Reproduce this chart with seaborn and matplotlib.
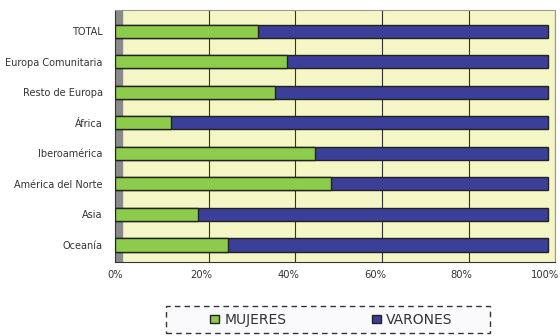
import pandas as pd
import matplotlib.pyplot as plt
import matplotlib.transforms as mtransforms
import seaborn as sns
from matplotlib.patches import Patch, Rectangle

regiones = ["TOTAL", "Europa Comunitaria", "Resto de Europa", "África",
            "Iberoamérica", "América del Norte", "Asia", "Oceanía"]
mujeres = [33.0, 39.7, 37.0, 12.9, 46.1, 49.8, 19.1, 26.0]
varones = [100 - m for m in mujeres]
xticks = [0, 20, 40, 60, 80, 100]

df = pd.DataFrame({"Region": regiones, "MUJERES": mujeres, "VARONES": varones})
df["Total"] = df["MUJERES"] + df["VARONES"]

verde = "#8DCB4C"
azul = "#3C3F98"
fondo = "#F5F6C6"

sns.set_style("white")
plt.rcParams["font.family"] = ["DejaVu Sans"]

fig = plt.figure(figsize=(5.6, 3.36), dpi=100)
ax = fig.add_axes([0.2054, 0.22, 0.786, 0.75])
ax.set_facecolor(fondo)

# grey left wall
ax.axvspan(0, 1.6, color="#8A8A8A", zorder=1)
for t in xticks[1:]:
    ax.axvline(t + 1.6, color="#333333", linewidth=0.8, zorder=1)

# stacked bars: full length in navy, green on top
sns.barplot(data=df, y="Region", x="Total", color=azul, width=0.43,
            saturation=1, edgecolor="#222222", linewidth=1.0, ax=ax, zorder=3)
sns.barplot(data=df, y="Region", x="MUJERES", color=verde, width=0.43,
            saturation=1, edgecolor="#222222", linewidth=1.0, ax=ax, zorder=4)

ax.set_xlim(0, 101.6)
ax.set_ylim(7.56, -0.69)
ax.set_xticks(xticks)
ax.set_xticklabels([f"{t}%" for t in xticks], fontsize=7.2, color="#333333")
ax.tick_params(axis="y", labelsize=7.0, labelcolor="#333333", length=0, pad=9)
ax.tick_params(axis="x", length=3, color="#333333", pad=3)
ax.set_xlabel("")
ax.set_ylabel("")

# nudge the 100% label so it stays inside the figure
last = ax.get_xticklabels()[-1]
last.set_transform(last.get_transform()
                   + mtransforms.ScaledTranslation(-3 / 100, 0, fig.dpi_scale_trans))

for s in ["top", "right"]:
    ax.spines[s].set_color("#999999")
for s in ["left", "bottom"]:
    ax.spines[s].set_color("#333333")

# dashed legend box
fig.patches.append(Rectangle((166 / 560, 1 - 333 / 336), 324 / 560, 27 / 336,
                             transform=fig.transFigure, facecolor="#FAFAFC",
                             edgecolor="#333333", linewidth=1.0,
                             linestyle=(0, (4, 3)), zorder=0))

handles = [Patch(facecolor=verde, edgecolor="#222222", label="MUJERES"),
           Patch(facecolor=azul, edgecolor="#222222", label="VARONES")]
leg = fig.legend(handles=handles, loc="center", bbox_to_anchor=(0.592, 0.048),
                 ncol=2, fontsize=10, frameon=False,
                 handlelength=0.6, handleheight=0.6, handletextpad=0.4,
                 columnspacing=6.2, borderpad=0, borderaxespad=0)
for txt in leg.get_texts():
    txt.set_color("#333333")

fig.savefig("out.png", dpi=100)
